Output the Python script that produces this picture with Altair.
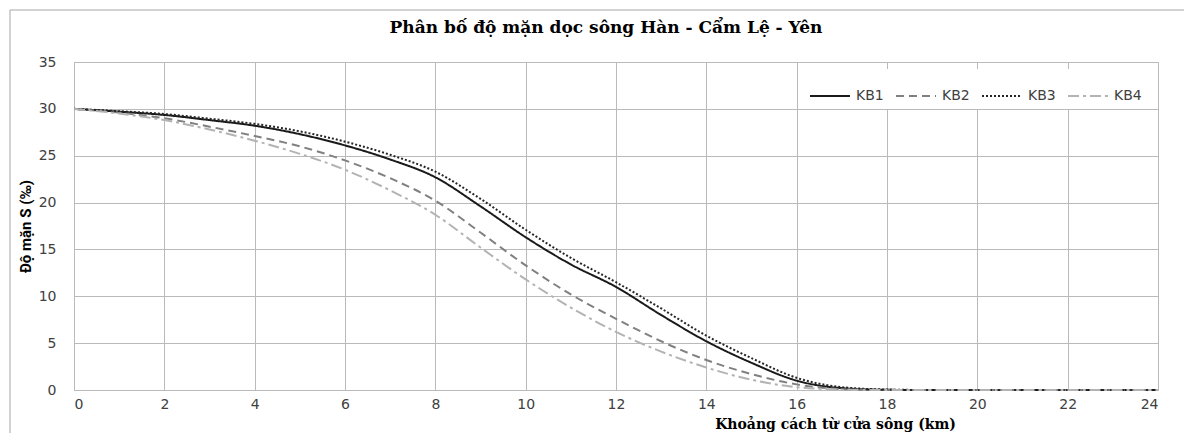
import altair as alt
import pandas as pd

# ---- data ----
km = list(range(0, 25))
kb1 = [30.0, 29.7, 29.35, 28.8, 28.2, 27.3, 26.1, 24.6, 22.7, 19.6, 16.3, 13.4,
       11.0, 8.0, 5.2, 2.9, 1.0, 0.2, 0.02, 0, 0, 0, 0, 0, 0]
kb2 = [30.0, 29.6, 29.0, 28.1, 27.1, 26.0, 24.5, 22.6, 20.2, 16.8, 13.3, 10.2,
       7.6, 5.2, 3.2, 1.7, 0.6, 0.1, 0.0, 0, 0, 0, 0, 0, 0]
kb3 = [30.0, 29.75, 29.45, 28.95, 28.4, 27.6, 26.5, 25.1, 23.3, 20.4, 17.1, 14.1,
       11.5, 8.7, 5.8, 3.4, 1.3, 0.3, 0.05, 0, 0, 0, 0, 0, 0]
kb4 = [30.0, 29.5, 28.8, 27.8, 26.6, 25.2, 23.5, 21.3, 18.7, 15.2, 11.8, 8.8,
       6.2, 4.1, 2.4, 1.1, 0.3, 0.05, 0.0, 0, 0, 0, 0, 0, 0]

series = ["KB1", "KB2", "KB3", "KB4"]
colors = ["#1a1a1a", "#808080", "#262626", "#b3b3b3"]
dashes = [[1, 0], [8, 5], [2, 2], [11, 4, 3, 4]]
widths = [2.0, 2.0, 1.6, 2.0]

x_ticks = list(range(0, 25, 2))
y_ticks = list(range(0, 36, 5))

chart_title = "Phân bố độ mặn dọc sông Hàn - Cẩm Lệ - Yên"
x_title = "Khoảng cách từ cửa sông (km)"
y_title = "Độ mặn S (‰)"

rows = []
for name, vals in zip(series, [kb1, kb2, kb3, kb4]):
    for k, v in zip(km, vals):
        rows.append({"km": k, "S": v, "series": name})
df = pd.DataFrame(rows)

W, H = 1084, 328
GRID = "#bababa"

legend = alt.Legend(
    title=None, orient="none", direction="horizontal", legendX=729, legendY=7,
    symbolType="stroke", symbolSize=1600, symbolStrokeWidth=2,
    labelFont="DejaVu Sans", labelFontSize=14, labelColor="#404040",
    labelOffset=5, columnPadding=8, fillColor="white", padding=6,
)

lines = alt.Chart(df).mark_line(interpolate="monotone").encode(
    x=alt.X("km:Q", scale=alt.Scale(domain=[0, 24], nice=False),
            axis=alt.Axis(values=x_ticks, title=x_title, grid=True, gridColor=GRID,
                          domain=False, ticks=False, labelFont="DejaVu Sans",
                          labelFontSize=14, labelColor="#404040", labelPadding=7,
                          titleFont="DejaVu Serif", titleFontSize=14,
                          titleFontWeight="bold", titleColor="#000000",
                          titleX=761, titleY=38, titleAlign="center",
                          titleBaseline="alphabetic")),
    y=alt.Y("S:Q", scale=alt.Scale(domain=[0, 35], nice=False),
            axis=alt.Axis(values=y_ticks, title=y_title, grid=True, gridColor=GRID,
                          domain=False, ticks=False, labelFont="DejaVu Sans",
                          labelFontSize=14, labelColor="#404040", labelPadding=18,
                          titleFont="Roboto", titleFontSize=15,
                          titleFontWeight="bold", titleColor="#000000",
                          titleX=-49, titleY=H / 2, titleAngle=270,
                          titleAlign="center", titleBaseline="middle")),
    color=alt.Color("series:N", scale=alt.Scale(domain=series, range=colors), legend=legend),
    strokeDash=alt.StrokeDash("series:N", scale=alt.Scale(domain=series, range=dashes), legend=legend),
    strokeWidth=alt.StrokeWidth("series:N", scale=alt.Scale(domain=series, range=widths), legend=None),
)

one = alt.Data(values=[{"t": chart_title}])
title_mark = alt.Chart(one).mark_text(
    font="DejaVu Serif", fontSize=17, fontWeight="bold", color="#000000",
    align="center", baseline="alphabetic"
).encode(text="t:N", x=alt.value(532), y=alt.value(-29))

border_left = alt.Chart(one).mark_rule(color="#a6a6a6", strokeWidth=1).encode(
    x=alt.value(-64), y=alt.value(-52), y2=alt.value(H + 60))
border_top = alt.Chart(one).mark_rule(color="#a6a6a6", strokeWidth=1).encode(
    x=alt.value(-64), x2=alt.value(W + 40), y=alt.value(-52))

chart = alt.layer(border_left, border_top, lines, title_mark).properties(
    width=W, height=H,
    autosize=alt.AutoSizeParams(type="none"),
    padding={"left": 66, "top": 54, "right": 26, "bottom": 43},
    background="white",
).configure_view(stroke=GRID, strokeWidth=1)

chart.save("out.html", embed_options={"renderer": "svg", "actions": False})
